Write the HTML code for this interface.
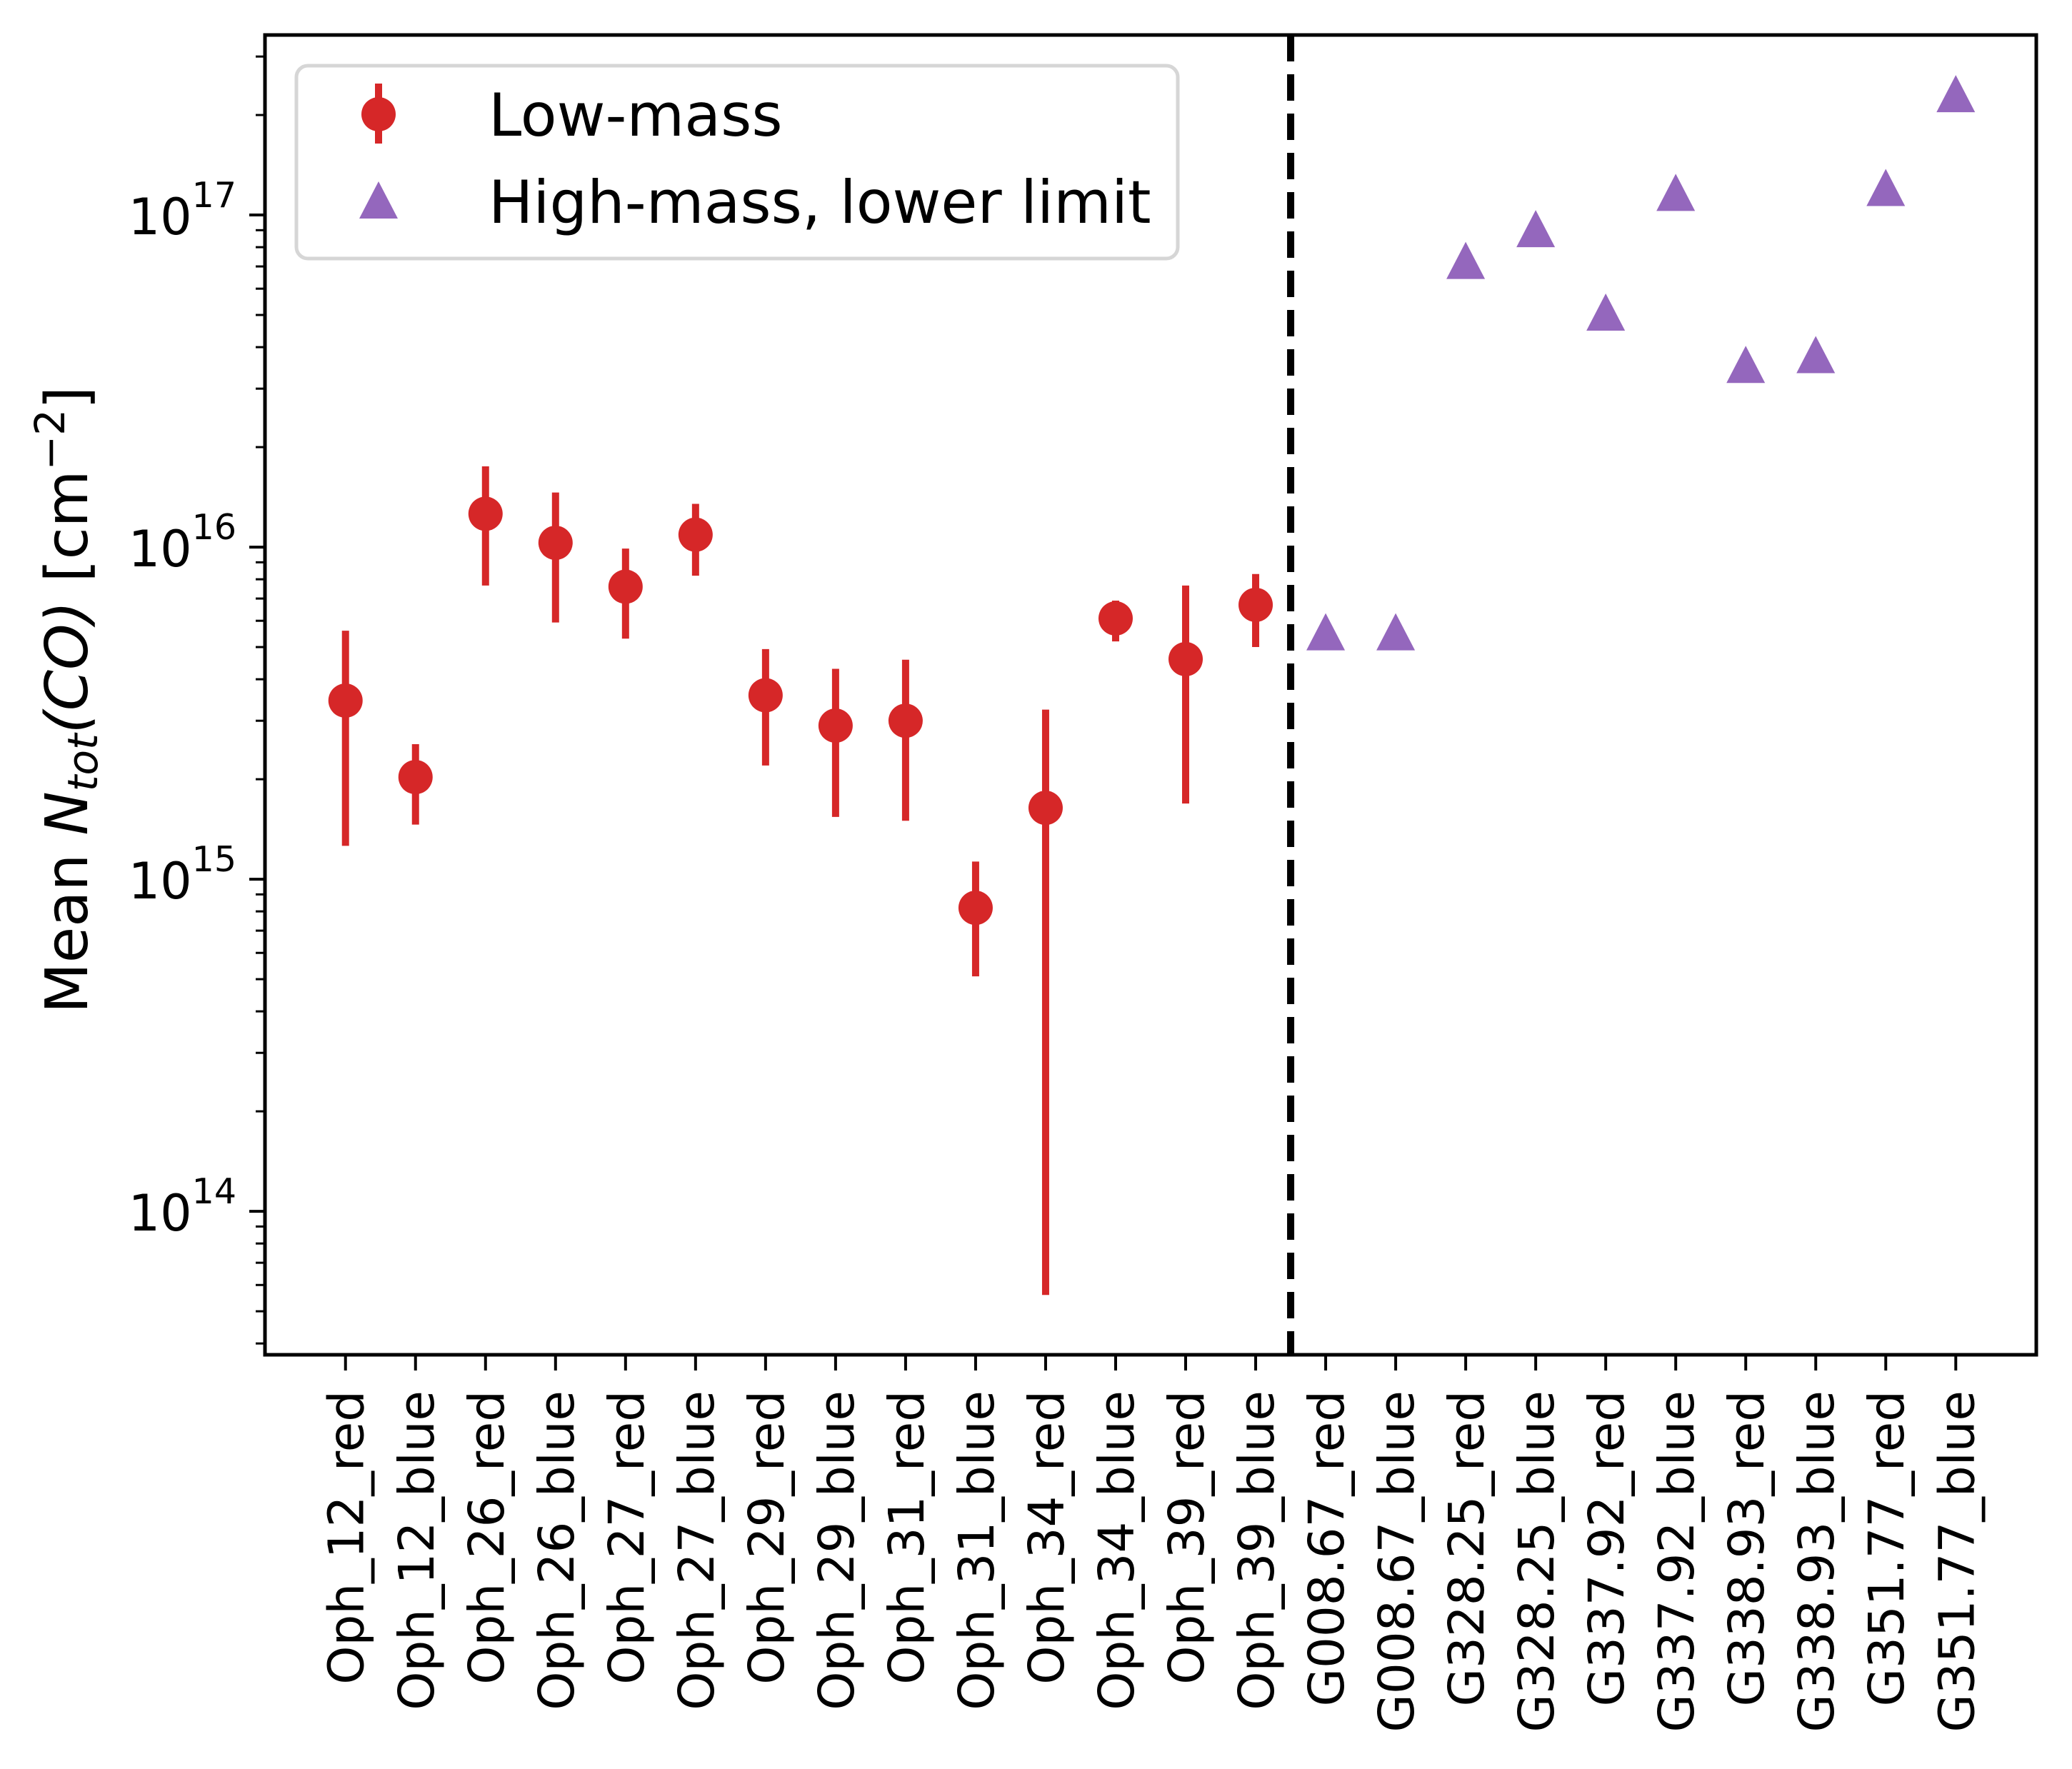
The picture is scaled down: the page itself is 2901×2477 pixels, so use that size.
<!DOCTYPE html>
<html><head><meta charset="utf-8"><style>
html,body{margin:0;padding:0;background:#fff;}
svg{display:block;font-family:"DejaVu Sans","Liberation Sans",sans-serif;}
</style></head><body>
<svg id="chart" width="2901" height="2477" viewBox="0 0 2901 2477" xmlns="http://www.w3.org/2000/svg">
<rect width="2901" height="2477" fill="#fff"/>
<g id="marks"></g>
<g id="axes"></g>
</svg>
<script>
const categories = ["Oph_12_red","Oph_12_blue","Oph_26_red","Oph_26_blue","Oph_27_red","Oph_27_blue","Oph_29_red","Oph_29_blue","Oph_31_red","Oph_31_blue","Oph_34_red","Oph_34_blue","Oph_39_red","Oph_39_blue","G008.67_red","G008.67_blue","G328.25_red","G328.25_blue","G337.92_red","G337.92_blue","G338.93_red","G338.93_blue","G351.77_red","G351.77_blue"];
const lowValues = [3.45e15,2.03e15,1.26e16,1.03e16,7.6e15,1.09e16,3.58e15,2.9e15,3.0e15,8.2e14,1.64e15,6.1e15,4.6e15,6.7e15];
const lowUpper = [5.6e15,2.55e15,1.75e16,1.46e16,9.9e15,1.35e16,4.93e15,4.3e15,4.58e15,1.13e15,3.24e15,6.9e15,7.66e15,8.3e15];
const lowLower = [1.26e15,1.46e15,7.66e15,5.93e15,5.3e15,8.2e15,2.2e15,1.54e15,1.5e15,5.1e14,5.6e13,5.2e15,1.69e15,5.0e15];
const highValues = [5.56e15,5.56e15,7.3e16,9.1e16,5.1e16,1.17e17,3.55e16,3.8e16,1.21e17,2.32e17];
const yTickExps = [14,15,16,17];
const dividerX = 13.5;

const NS="http://www.w3.org/2000/svg";
const L=371,R=2851,T=49,B=1897;
const xMin=-1.15,xMax=24.15;
const yMinLog=13.568,yMaxLog=17.542;
function xs(i){return L+(i-xMin)/(xMax-xMin)*(R-L);}
function ys(v){return B-(Math.log10(v)-yMinLog)/(yMaxLog-yMinLog)*(B-T);}
function el(tag,attrs,parent){const e=document.createElementNS(NS,tag);for(const k in attrs)e.setAttribute(k,attrs[k]);parent.appendChild(e);return e;}
const marks=document.getElementById('marks'), axes=document.getElementById('axes');
const RED="#d62728",PUR="#9467bd";

let dl=el('line',{x1:xs(dividerX),x2:xs(dividerX),y1:T,y2:B,stroke:"#000","stroke-width":10,"stroke-dasharray":"37 18"},marks);



lowValues.forEach((v,i)=>{
  const g=el('g',{},marks);
  
  
  el('line',{x1:xs(i),x2:xs(i),y1:ys(lowUpper[i]),y2:ys(lowLower[i]),stroke:RED,"stroke-width":10},g);
  el('circle',{cx:xs(i),cy:ys(v),r:24,fill:RED},g);
});
highValues.forEach((v,k)=>{
  const i=k+lowValues.length, cx=xs(i), cy=ys(v);
  const p=el('polygon',{points:`${cx},${cy-26} ${cx-27},${cy+26} ${cx+27},${cy+26}`,fill:PUR},marks);
  
  
});

const fr=el('rect',{x:L,y:T,width:R-L,height:B-T,fill:"none",stroke:"#000","stroke-width":5},axes);



yTickExps.forEach(e=>{
  const y=ys(Math.pow(10,e));
  el('line',{x1:L-22,x2:L,y1:y,y2:y,stroke:"#000","stroke-width":4},axes);
  const t=el('text',{x:L-40,y:y+27,"text-anchor":"end","font-size":70,fill:"#000"},axes);
  
  
  t.innerHTML='10<tspan dy="-38" font-size="49">'+e+'</tspan>';
});
for(let e=13;e<=17;e++){for(let m=2;m<=9;m++){const v=m*Math.pow(10,e);const lv=Math.log10(v);if(lv<yMinLog||lv>yMaxLog)continue;const y=ys(v);el('line',{x1:L-13,x2:L,y1:y,y2:y,stroke:"#000","stroke-width":3},axes);}}

categories.forEach((c,i)=>{
  const x=xs(i);
  el('line',{x1:x,x2:x,y1:B,y2:B+22,stroke:"#000","stroke-width":4},axes);
  const t=el('text',{x:0,y:0,"text-anchor":"end","font-size":69,fill:"#000",transform:`translate(${x+25},${B+50}) rotate(-90)`},axes);
  
  
  t.textContent=c;
});

const yl=el('text',{x:0,y:0,"text-anchor":"middle","font-size":82,fill:"#000",transform:"translate(122,980) rotate(-90)"},axes);


yl.innerHTML='Mean <tspan font-style="italic">N</tspan><tspan font-style="italic" font-size="58" dy="14">tot</tspan><tspan font-style="italic" dy="-14">(CO)</tspan> [cm<tspan font-size="58" dy="-32">−2</tspan><tspan dy="32">]</tspan>';

const lg=el('g',{},axes);


el('rect',{x:415,y:92,width:1234,height:270,rx:16,fill:"#fff","fill-opacity":0.8,stroke:"#d6d6d6","stroke-width":5},lg);
const e1=el('g',{},lg);


el('line',{x1:530,x2:530,y1:117,y2:201,stroke:RED,"stroke-width":10},e1);
el('circle',{cx:530,cy:160,r:24,fill:RED},e1);
const t1=el('text',{x:684,y:190,"font-size":83,fill:"#000"},e1);t1.textContent="Low-mass";
const e2=el('g',{},lg);


el('polygon',{points:"530,254 503,306 557,306",fill:PUR},e2);
const t2=el('text',{x:684,y:312,"font-size":83,fill:"#000"},e2);t2.textContent="High-mass, lower limit";
</script>
</body></html>
